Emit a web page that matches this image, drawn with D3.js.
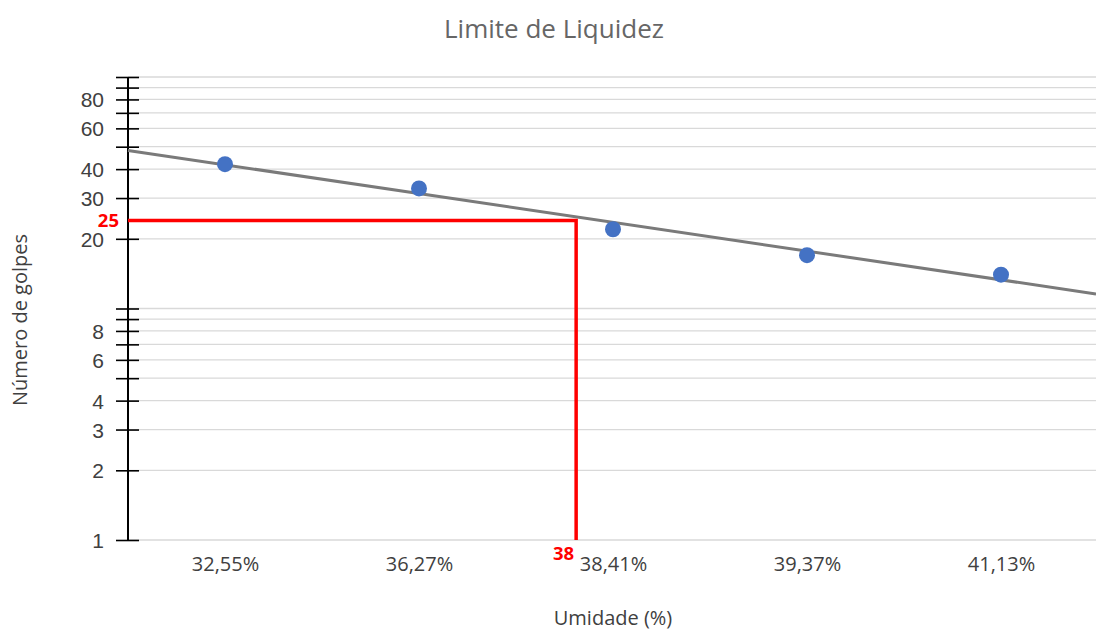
<!DOCTYPE html>
<html><head><meta charset="utf-8">
<script src="https://cdn.jsdelivr.net/npm/d3@7"></script>
<style>html,body{margin:0;padding:0;background:#fff;}svg{display:block;}</style>
</head><body>
<svg id="chart" width="1096" height="632"></svg>
<script>
// ---- data ----
const categories = ["32,55%", "36,27%", "38,41%", "39,37%", "41,13%"];
const golpes = [42, 33, 22, 17, 14];
const tickValues = [1,2,3,4,5,6,7,8,9,10,20,30,40,50,60,70,80,90,100];
const tickLabels = [1,2,3,4,6,8,20,30,40,60,80];
const annotationLevel = [24];          // red horizontal (golpes)
const annotationCatPos = [1.81];       // red vertical (category index units)
const annotationLabels = ["25", "38"];
const title = "Limite de Liquidez";
const xTitle = "Umidade (%)";
const yTitle = "Número de golpes";

// ---- layout ----
const svg = d3.select("#chart");
const mLeft = 128, mRight = 1098, mTop = 77, mBottom = 540;

const x = d3.scalePoint().domain(categories).range([mLeft, mRight]).padding(0.5);
const step = x.step();
const xPos = i => x(categories[0]) + i * step;
const y = d3.scaleLog().domain([1, 100]).range([mBottom, mTop]);

// gridlines
svg.append("g").selectAll("line").data(tickValues).join("line")
  .attr("x1", mLeft).attr("x2", 1096)
  .attr("y1", d => y(d)).attr("y2", d => y(d))
  .attr("stroke", "#d9d9d9").attr("stroke-width", 1.3);

// y axis
const yAxis = d3.axisLeft(y).tickValues(tickValues).tickSize(0)
  .tickFormat(d => tickLabels.includes(d) ? d : "");
const gy = svg.append("g").attr("transform", `translate(${mLeft},0)`).call(yAxis);
gy.select(".domain").remove();
gy.selectAll(".tick text").attr("x", -24).attr("dy", "0.36em")
  .attr("font-family", "Liberation Sans, Arial, sans-serif").attr("font-size", 21).attr("fill", "#404040");
gy.selectAll(".tick").append("line").attr("x1", -12).attr("x2", 11)
  .attr("stroke", "#000").attr("stroke-width", 1.6);
gy.append("line").attr("x1", 0).attr("x2", 0).attr("y1", y(100)).attr("y2", y(1))
  .attr("stroke", "#000").attr("stroke-width", 2);

// x axis labels
const xAxis = d3.axisBottom(x).tickSize(0);
const gx = svg.append("g").attr("transform", `translate(0,${mBottom})`).call(xAxis);
gx.select(".domain").remove();
gx.selectAll(".tick text").attr("y", 0).attr("dy", "31px")
  .attr("font-family", "Open Sans, sans-serif").attr("font-size", 20).attr("fill", "#404040");

// trend line (exponential fit: linear regression of log10(golpes) vs index)
const n = golpes.length;
const idx = d3.range(n);
const ly = golpes.map(v => Math.log10(v));
const mx = d3.mean(idx), my = d3.mean(ly);
const slope = d3.sum(idx, i => (i - mx) * (ly[i] - my)) / d3.sum(idx, i => (i - mx) ** 2);
const icpt = my - slope * mx;
const trendAt = px => Math.pow(10, icpt + slope * ((px - x(categories[0])) / step));
const trendXs = [mLeft, 1096];
svg.append("path")
  .attr("d", d3.line().x(d => d).y(d => y(trendAt(d)))(trendXs))
  .attr("fill", "none").attr("stroke", "#7a7a7a").attr("stroke-width", 3);

// red annotation
const ax = xPos(annotationCatPos[0]);
const ay = y(annotationLevel[0]);
svg.append("path")
  .attr("d", d3.line()([[mLeft, ay], [ax, ay], [ax, y(1)]]))
  .attr("fill", "none").attr("stroke", "#ff0000").attr("stroke-width", 3.5);
svg.append("text").attr("x", mLeft - 9).attr("y", ay).attr("dy", "0.36em")
  .attr("text-anchor", "end").attr("font-family", "Open Sans, sans-serif")
  .attr("font-weight", "bold").attr("font-size", 18.5).attr("fill", "#ff0000").text(annotationLabels[0]);
svg.append("text").attr("x", ax - 2).attr("y", y(1) + 20)
  .attr("text-anchor", "end").attr("font-family", "Open Sans, sans-serif")
  .attr("font-weight", "bold").attr("font-size", 18.5).attr("fill", "#ff0000").text(annotationLabels[1]);

// points
svg.append("g").selectAll("circle").data(golpes).join("circle")
  .attr("cx", (d, i) => x(categories[i])).attr("cy", d => y(d)).attr("r", 8)
  .attr("fill", "#4472c4");

// titles
svg.append("text").attr("x", 554).attr("y", 38).attr("text-anchor", "middle")
  .attr("font-family", "Open Sans, sans-serif").attr("font-size", 26).attr("fill", "#666")
  .text(title);
svg.append("text").attr("x", 613).attr("y", 625).attr("text-anchor", "middle")
  .attr("font-family", "Open Sans, sans-serif").attr("font-size", 20).attr("fill", "#404040")
  .text(xTitle);
svg.append("text").attr("transform", "translate(27,320) rotate(-90)").attr("text-anchor", "middle")
  .attr("font-family", "Open Sans, sans-serif").attr("font-size", 20).attr("fill", "#404040")
  .text(yTitle);
</script>
</body></html>
